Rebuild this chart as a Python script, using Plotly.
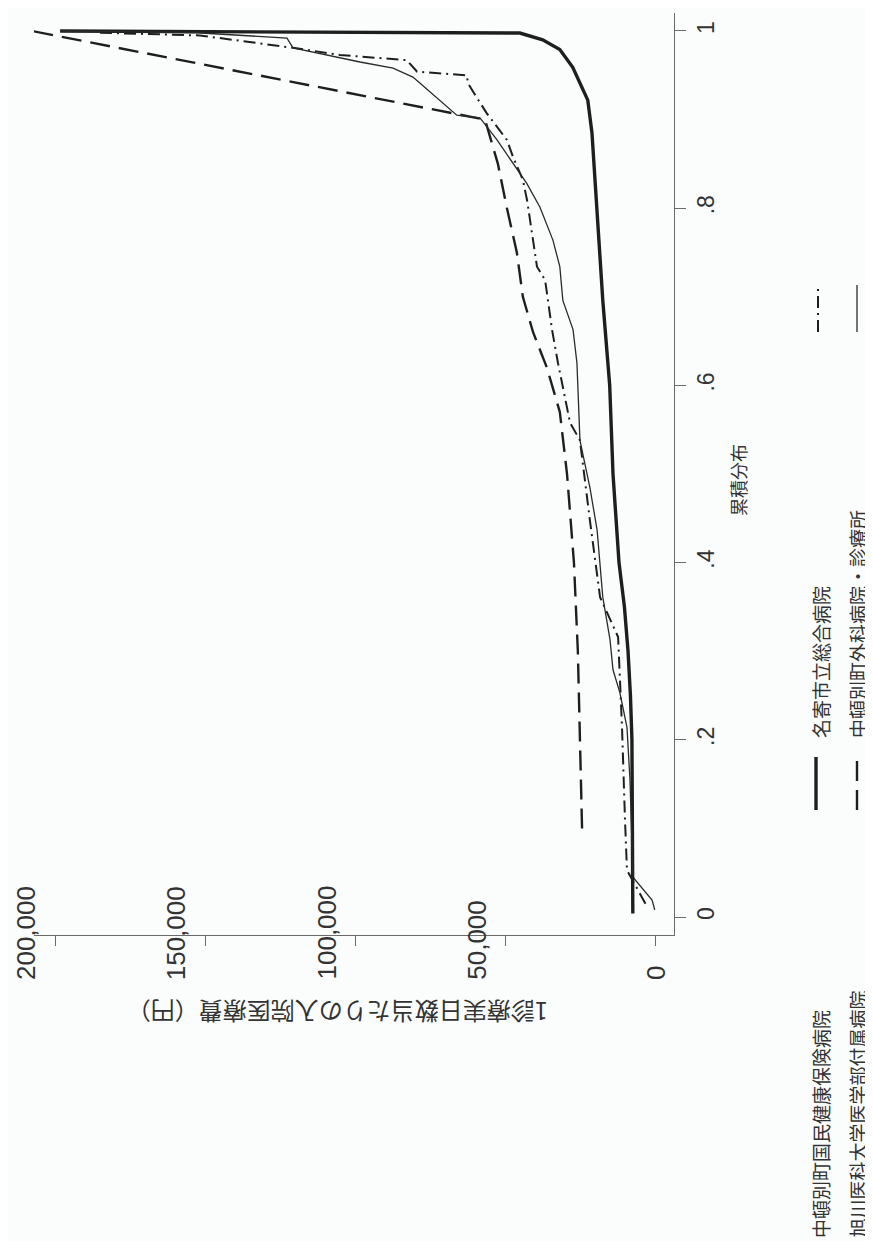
import plotly.graph_objects as go

# ---------------- data (cumulative share vs. cost per day, yen) ----------------
names = ["中頓別町国民健康保険病院", "名寄市立総合病院",
         "旭川医科大学医学部付属病院", "中頓別町外科病院・診療所"]

p_kokuho = [0.004, 0.10, 0.20, 0.25, 0.30, 0.35, 0.40, 0.50, 0.60, 0.696, 0.809,
            0.885, 0.922, 0.941, 0.959, 0.979, 0.990, 0.9977, 1.0]
c_kokuho = [7700, 7800, 8000, 8500, 9300, 10500, 12300, 14300, 15400, 17700, 19700,
            21300, 22700, 25300, 27700, 32000, 37700, 45300, 198300]

p_nayoro = [0.015, 0.053, 0.109, 0.214, 0.316, 0.361, 0.448, 0.538, 0.558, 0.595,
            0.625, 0.663, 0.719, 0.734, 0.809, 0.832, 0.858, 0.877, 0.892, 0.907,
            0.941, 0.950, 0.954, 0.967, 0.973, 0.981, 0.995, 0.998]
c_nayoro = [3500, 9650, 10300, 11300, 12600, 18600, 22000, 25300, 28600, 30900,
            32600, 34600, 36900, 39600, 42900, 44300, 47600, 49600, 52900, 56300,
            62600, 62900, 79500, 82900, 105200, 120800, 151800, 185000]

p_asahikawa = [0.10, 0.20, 0.30, 0.40, 0.50, 0.57, 0.62, 0.66, 0.70, 0.75, 0.80,
               0.85, 0.90, 1.0]
c_asahikawa = [24600, 25300, 26000, 27300, 29600, 32000, 36300, 40900, 44300, 46300,
               49600, 52600, 56900, 207700]

p_geka = [0.008, 0.019, 0.045, 0.155, 0.214, 0.253, 0.279, 0.313, 0.361, 0.437,
          0.485, 0.538, 0.625, 0.663, 0.696, 0.734, 0.764, 0.801, 0.828, 0.851,
          0.877, 0.892, 0.902, 0.905, 0.922, 0.941, 0.948, 0.958, 0.965, 0.981,
          0.992, 0.998, 1.0]
c_geka = [400, 1300, 7650, 8650, 9650, 12000, 14300, 15300, 17700, 19600,
          22000, 25300, 26300, 27600, 31000, 32000, 34300, 38600, 43000, 47600,
          52900, 56300, 58600, 66300, 71900, 78500, 80900, 87500, 98500, 120800,
          122800, 152800, 198300]

cost_ticks = [0, 50000, 100000, 150000, 200000]
cost_tick_labels = ["0", "50,000", "100,000", "150,000", "200,000"]
cum_ticks = [0, 0.2, 0.4, 0.6, 0.8, 1.0]
cum_tick_labels = ["0", ".2", ".4", ".6", ".8", "1"]

x_title = "累積分布"
y_title = "1診療実日数当たりの入院医療費（円）"

# ---------------- layout helpers (page pixel -> paper) ----------------
OFF = 8                      # default page margin of the html body
W, H = 873 - OFF, 1241 - OFF
AX_L, AX_R, AX_T, AX_B = 34, 674, 13, 935      # plot area in page pixels
ML, MR = AX_L - OFF, W - (AX_R - OFF)
MT, MB = AX_T - OFF, H - (AX_B - OFF)
PW, PH = AX_R - AX_L, AX_B - AX_T


def px(x):
    return (x - AX_L) / PW


def py(y):
    return (AX_B - y) / PH


INK = "#1e1e1e"
AX = "#6a6a6a"
TXT = "#333333"
NUMFONT = "Liberation Sans, Arial, sans-serif"
JPFONT = "Noto Sans CJK JP, sans-serif"

styles = [
    dict(color=INK, width=3.4, dash="solid"),
    dict(color=INK, width=2.0, dash="12px,5px,2px,5px"),
    dict(color=INK, width=2.4, dash="20px,9px"),
    dict(color="#2a2a2a", width=1.3, dash="solid"),
]

series = [(p_kokuho, c_kokuho), (p_nayoro, c_nayoro),
          (p_asahikawa, c_asahikawa), (p_geka, c_geka)]

fig = go.Figure()
for (pp, cc), nm, st in zip(series, names, styles):
    fig.add_trace(go.Scatter(x=cc, y=pp, mode="lines", name=nm, line=st,
                             showlegend=False))

fig.update_layout(
    width=W, height=H,
    margin=dict(l=ML, r=MR, t=MT, b=MB, pad=0),
    paper_bgcolor="#fbfdfd", plot_bgcolor="#fbfdfd",
    showlegend=False,
    xaxis=dict(range=[207000, -6000], tickvals=cost_ticks, showticklabels=False,
               ticks="outside", ticklen=10, tickcolor=AX, tickwidth=1.2,
               showline=True, linecolor=AX, linewidth=1.3,
               showgrid=False, zeroline=False),
    yaxis=dict(range=[-0.0203, 1.0203], side="right", tickvals=cum_ticks,
               ticktext=cum_tick_labels, tickangle=-90,
               tickfont=dict(family=NUMFONT, size=23, color=TXT),
               ticks="outside", ticklen=11, tickcolor=AX, tickwidth=1.2,
               showline=True, linecolor=AX, linewidth=1.3,
               showgrid=False, zeroline=False),
)

ann = []
# cost-axis tick labels, rotated like the reference
for v, lab in zip(cost_ticks, cost_tick_labels):
    ann.append(dict(x=v, xref="x", y=py(982), yref="paper", text=lab,
                    textangle=-90, showarrow=False, xanchor="center",
                    yanchor="bottom", xshift=-29 if v else 0,
                    font=dict(family=NUMFONT, size=26, color=TXT)))
# axis titles
ann.append(dict(x=px(738), y=py(480), xref="paper", yref="paper", text=x_title,
                textangle=-90, showarrow=False, xanchor="center", yanchor="middle",
                font=dict(family=JPFONT, size=18, color=TXT)))
ann.append(dict(x=px(338), y=py(1013), xref="paper", yref="paper", text=y_title,
                textangle=180, showarrow=False, xanchor="center", yanchor="middle",
                font=dict(family=JPFONT, size=24, color=TXT)))

# legend (rotated)
leg = [
    (names[0], 820, 1240, 816, 757, 810, styles[0]),
    (names[2], 857, 1240, 857, 757, 810, styles[2]),
    (names[1], 820, 740, 818, 288, 332, styles[1]),
    (names[3], 857, 740, 857, 285, 332, styles[3]),
]
shapes = []
for txt, tx, tyb, lx, ly0, ly1, st in leg:
    ann.append(dict(x=px(tx), y=py(tyb), xref="paper", yref="paper", text=txt,
                    textangle=-90, showarrow=False, xanchor="center",
                    yanchor="bottom",
                    font=dict(family=JPFONT, size=19, color=TXT)))
    shapes.append(dict(type="line", xref="paper", yref="paper",
                       x0=px(lx), x1=px(lx), y0=py(ly1), y1=py(ly0),
                       line=dict(color=st["color"], width=st["width"],
                                 dash=st["dash"])))

fig.update_layout(annotations=ann, shapes=shapes)
fig.write_html("out.html")
